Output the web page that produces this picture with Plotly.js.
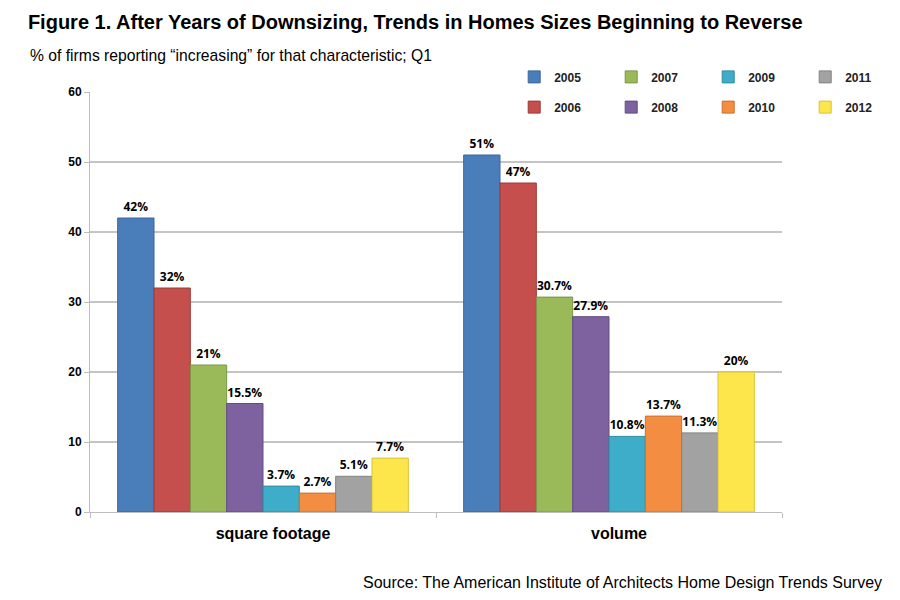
<!DOCTYPE html>
<html>
<head>
<meta charset="utf-8">
<script src="https://cdn.plot.ly/plotly-3.0.1.min.js"></script>
<style>
  body { margin: 0; background: #fff; }
  #chart { width: 900px; height: 600px; }
</style>
</head>
<body>
<div id="chart"></div>
<script>
// categories and yearly series (% of firms reporting "increasing")
let categories = ['square footage', 'volume'];
let years = ['2005', '2006', '2007', '2008', '2009', '2010', '2011', '2012'];
let v2005 = [42, 51];
let v2006 = [32, 47];
let v2007 = [21, 30.7];
let v2008 = [15.5, 27.9];
let v2009 = [3.7, 10.8];
let v2010 = [2.7, 13.7];
let v2011 = [5.1, 11.3];
let v2012 = [7.7, 20];
let yTicks = [0, 10, 20, 30, 40, 50, 60];

let series = [v2005, v2006, v2007, v2008, v2009, v2010, v2011, v2012];
let colors = ['#4a7ebb', '#c44f4c', '#9aba5a', '#7e62a0', '#3eadc9', '#f28d42', '#a2a2a2', '#fde64b'];
let edges = ['#3a6699', '#9c3b39', '#7a9645', '#634c80', '#2f8ba3', '#c9702f', '#828282', '#d8c23a'];

// odd years go on the first legend row, even years on the second
let traces = series.map(function(vals, i){
    return {
        type: 'bar',
        name: years[i],
        x: categories,
        y: vals,
        text: vals.map(function(v){ return v + '%'; }),
        textposition: 'outside',
        constraintext: 'none',
        cliponaxis: false,
        textfont: {family: 'Open Sans', size: 12, color: '#000', weight: 700},
        marker: {color: colors[i], line: {color: edges[i], width: 1}},
        legend: (i % 2 === 0) ? 'legend' : 'legend2',
        hoverinfo: 'name+y'
    };
});

let legendStyle = {
    orientation: 'h',
    xref: 'paper', yref: 'paper',
    x: 0.613,
    xanchor: 'left', yanchor: 'middle',
    entrywidth: 52, entrywidthmode: 'pixels',
    bgcolor: 'rgba(0,0,0,0)',
    font: {family: 'Liberation Sans', size: 12, color: '#222', weight: 700}
};

let layout = {
    width: 900,
    height: 600,
    margin: {l: 90, r: 118, t: 92, b: 88, autoexpand: false},
    paper_bgcolor: '#fff',
    plot_bgcolor: '#fff',
    barmode: 'group',
    bargap: 0.16,
    bargroupgap: 0,
    title: {
        text: 'Figure 1. After Years of Downsizing, Trends in Homes Sizes Beginning to Reverse',
        font: {family: 'Liberation Sans', size: 20, color: '#000', weight: 700},
        xref: 'container', yref: 'container',
        x: 0.031, xanchor: 'left',
        y: 0.963, yanchor: 'middle'
    },
    legend: Object.assign({}, legendStyle, {y: 1.036}),
    legend2: Object.assign({}, legendStyle, {y: 0.964}),
    xaxis: {
        type: 'category',
        showgrid: false,
        showline: true,
        linecolor: '#bdbdbd',
        ticks: 'outside',
        tickson: 'boundaries',
        ticklen: 5,
        tickcolor: '#bdbdbd',
        ticklabelshift: 10,
        ticklabelstandoff: 7,
        tickfont: {family: 'Liberation Sans', size: 16, color: '#000', weight: 700}
    },
    yaxis: {
        range: [0, 60],
        tickvals: yTicks,
        showgrid: true,
        gridcolor: '#c4c4c4',
        gridwidth: 1.5,
        zeroline: false,
        showline: true,
        linecolor: '#bdbdbd',
        ticks: 'outside',
        ticklen: 5,
        tickcolor: '#bdbdbd',
        tickfont: {family: 'Liberation Sans', size: 12, color: '#000', weight: 700}
    },
    annotations: [
        {
            text: '% of firms reporting \u201cincreasing\u201d for that characteristic; Q1',
            xref: 'paper', yref: 'paper',
            x: -0.0896, y: 1.086,
            xanchor: 'left', yanchor: 'middle',
            showarrow: false,
            font: {family: 'Liberation Sans', size: 15.7, color: '#000'}
        },
        {
            text: 'Source: The American Institute of Architects Home Design Trends Survey',
            xref: 'paper', yref: 'paper',
            x: 1.1474, y: -0.169,
            xanchor: 'right', yanchor: 'middle',
            showarrow: false,
            font: {family: 'Liberation Sans', size: 16, color: '#000'}
        }
    ],
    showlegend: true
};

Plotly.newPlot('chart', traces, layout, {displayModeBar: false, staticPlot: true});
</script>
</body>
</html>
